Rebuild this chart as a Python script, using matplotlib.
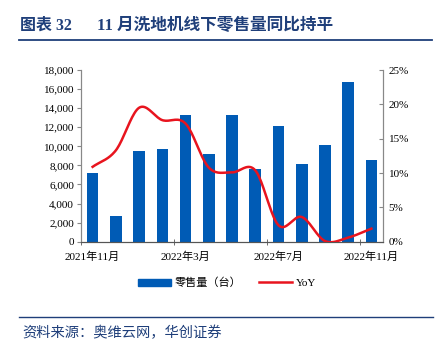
import numpy as np
import matplotlib.pyplot as plt
from matplotlib.lines import Line2D
from matplotlib.patches import Patch

# --- Daten --- #
months = ['2021年11月', '2021年12月', '2022年1月', '2022年2月', '2022年3月', '2022年4月',
          '2022年5月', '2022年6月', '2022年7月', '2022年8月', '2022年9月', '2022年10月',
          '2022年11月']
sales = [7250, 2650, 9550, 9700, 13300, 9150, 13250, 7650, 12100, 8150, 10150, 16700, 8600]
yoy = [10.9, 13.3, 19.5, 17.7, 17.2, 10.8, 10.1, 10.4, 2.4, 3.6, 0.1, 0.6, 1.9]
label_idx = [0, 4, 8, 12]

blue = '#005BB5'
red = '#E8141E'
navy = '#1F3F7A'
fonts = ['Liberation Serif', 'Noto Sans CJK SC']
plt.rcParams['font.family'] = fonts


def catmull_rom(xs, ys, n=20):
    # glatte Kurve durch die Datenpunkte (wie "geglättete Linie")
    xs = np.asarray(xs, float)
    ys = np.asarray(ys, float)
    px = np.concatenate([[2*xs[0]-xs[1]], xs, [2*xs[-1]-xs[-2]]])
    py = np.concatenate([[2*ys[0]-ys[1]], ys, [2*ys[-1]-ys[-2]]])
    out_x, out_y = [], []
    t = np.linspace(0, 1, n, endpoint=False)
    for i in range(1, len(px)-2):
        for p, o in ((px, out_x), (py, out_y)):
            p0, p1, p2, p3 = p[i-1], p[i], p[i+1], p[i+2]
            o.extend(0.5*((2*p1) + (-p0+p2)*t + (2*p0-5*p1+4*p2-p3)*t**2
                          + (-p0+3*p1-3*p2+p3)*t**3))
    out_x.append(xs[-1])
    out_y.append(ys[-1])
    return np.array(out_x), np.array(out_y)


fig = plt.figure(figsize=(4.42, 3.47), dpi=100)
ax = fig.add_axes([81/442, 1-241.7/347, (383-81)/442, (241.7-70)/347])
ax2 = ax.twinx()

x = np.arange(len(months))
ax.bar(x, sales, width=0.5, color=blue, zorder=2)
ax.set_xlim(-0.5, len(months)-0.5)
ax.set_ylim(0, 18000)
ax.set_yticks(np.arange(0, 18001, 2000))
ax.set_yticklabels(['{:,}'.format(v) for v in range(0, 18001, 2000)])

sx, sy = catmull_rom(x, yoy)
ax2.plot(sx, sy, color=red, linewidth=1.8, zorder=3)
ax2.set_ylim(0, 25)
ax2.set_yticks(np.arange(0, 26, 5))
ax2.set_yticklabels(['{}%'.format(v) for v in range(0, 26, 5)])

ax.set_xticks(x[label_idx])
ax.set_xticklabels([months[i] for i in label_idx])
ax.set_xticks(np.arange(-0.5, len(months), 4), minor=True)
ax.tick_params(axis='x', which='major', length=0, labelsize=8, pad=7)
ax.tick_params(axis='x', which='minor', length=5, direction='inout', color='#555555')
ax.tick_params(axis='y', length=3, color='#888888', labelsize=8, pad=2)
ax2.tick_params(axis='y', length=3, direction='in', color='#888888', labelsize=8, pad=4)

for a in (ax, ax2):
    a.spines['top'].set_visible(False)
    a.spines['left'].set_color('#888888')
    a.spines['right'].set_color('#888888')
    a.spines['bottom'].set_color('#555555')

# Legende
handles = [Patch(color=blue, label='零售量（台）'),
           Line2D([], [], color=red, linewidth=1.8, label='YoY')]
fig.legend(handles=handles, loc='center', bbox_to_anchor=(227/442, 1-283/347), ncol=2,
           frameon=False, fontsize=8, handlelength=3, handleheight=0.7,
           handletextpad=0.3, columnspacing=1.6)

# Titel und Quelle
fig.text(20/442, 1-26/347, '图表 32', color=navy,
         fontsize=11.5, fontweight='bold', va='center', ha='left')
fig.text(97/442, 1-26/347, '11 月洗地机线下零售量同比持平', color=navy,
         fontsize=12, fontweight='bold', va='center', ha='left')
fig.add_artist(Line2D([19/442, 432/442], [1-40/347, 1-40/347], color=navy, linewidth=1.3))
fig.add_artist(Line2D([19/442, 433/442], [1-317/347, 1-317/347], color=navy, linewidth=1.0))
fig.text(22/442, 1-333/347, '资料来源：奥维云网，华创证券', color=navy, fontsize=10.3,
         style='italic', va='center', ha='left')

fig.savefig('out.png', dpi=100)
